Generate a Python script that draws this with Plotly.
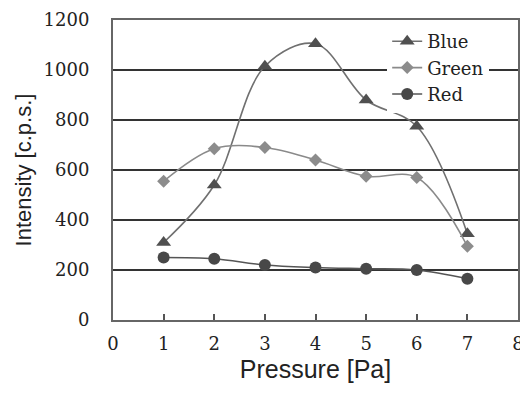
import plotly.graph_objects as go

pressure = [1, 2, 3, 4, 5, 6, 7]
blue = [310, 540, 1015, 1105, 880, 775, 345]
green = [555, 685, 690, 640, 575, 570, 295]
red = [250, 245, 220, 210, 205, 200, 165]
x_ticks = [0, 1, 2, 3, 4, 5, 6, 7, 8]
y_ticks = [0, 200, 400, 600, 800, 1000, 1200]

SERIF = "DejaVu Serif"
SANS = "Liberation Sans"

fig = go.Figure()
fig.add_trace(go.Scatter(x=pressure, y=blue, name="Blue", mode="lines+markers",
                         line=dict(color="#707070", width=1.6, shape="spline", smoothing=1.0),
                         marker=dict(symbol="triangle-up", size=13, color="#505050")))
fig.add_trace(go.Scatter(x=pressure, y=green, name="Green", mode="lines+markers",
                         line=dict(color="#8a8a8a", width=1.6, shape="spline", smoothing=1.0),
                         marker=dict(symbol="diamond", size=10, color="#8c8c8c")))
fig.add_trace(go.Scatter(x=pressure, y=red, name="Red", mode="lines+markers",
                         line=dict(color="#555555", width=1.6, shape="spline", smoothing=1.0),
                         marker=dict(symbol="circle", size=12, color="#484848")))

fig.update_layout(
    width=520, height=389,
    margin=dict(l=105, r=10, t=12, b=77, autoexpand=False),
    paper_bgcolor="white", plot_bgcolor="white",
    legend=dict(x=0.677, y=0.99, xanchor="left", yanchor="top",
                bgcolor="white", font=dict(family=SERIF, size=18, color="#222"),
                tracegroupgap=0, itemwidth=30),
    showlegend=True,
)
fig.update_xaxes(range=[0, 8], tickvals=x_ticks, showgrid=False, automargin=False,
                 showline=True, linecolor="#666", linewidth=2, mirror=True,
                 ticks="inside", ticklen=6, tickcolor="#555", tickwidth=1.5,
                 tickfont=dict(family=SERIF, size=18, color="#222"),
                 ticklabelstandoff=6, ticklabeloverflow="allow",
                 title=dict(text="Pressure [Pa]", font=dict(family=SANS, size=25, color="#222"), standoff=8),
                 zeroline=False)
fig.update_yaxes(range=[0, 1200], tickvals=y_ticks, showgrid=True, automargin=False,
                 gridcolor="#333", gridwidth=1.5,
                 showline=True, linecolor="#666", linewidth=2, mirror=True,
                 ticks="", tickfont=dict(family=SERIF, size=18, color="#222"),
                 ticklabelstandoff=18, ticklabeloverflow="allow",
                 title=dict(text="Intensity [c.p.s.]", font=dict(family=SANS, size=22, color="#222"), standoff=6),
                 zeroline=False)

fig.write_html("out.html")
